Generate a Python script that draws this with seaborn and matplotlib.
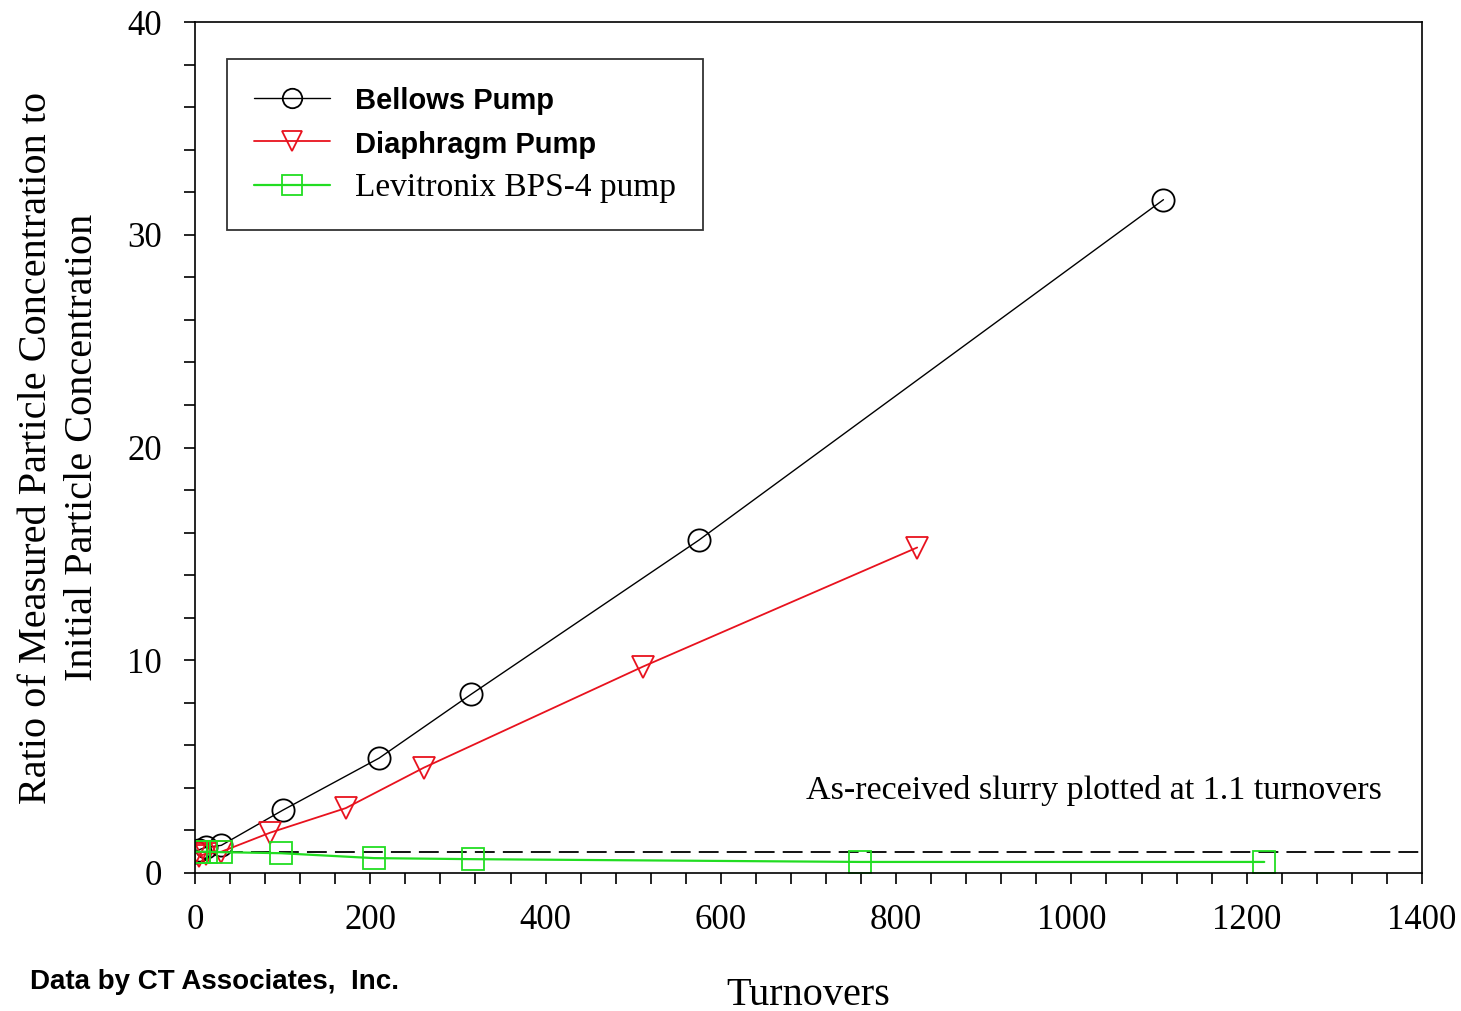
import matplotlib
matplotlib.use("Agg")
import matplotlib.pyplot as plt
import seaborn as sns
import pandas as pd
from matplotlib.ticker import MultipleLocator

# Data
bellows_x = [1.1, 5, 12, 30, 100, 210, 315, 575, 1105]
bellows_y = [1.0, 1.1, 1.2, 1.3, 2.95, 5.4, 8.4, 15.65, 31.65]

diaphragm_x = [1.1, 5, 12, 30, 86, 172, 261, 511, 824]
diaphragm_y = [1.0, 0.8, 0.9, 1.0, 1.9, 3.05, 4.95, 9.7, 15.3]

levitronix_x = [1.1, 5, 12, 30, 98, 204, 317, 759, 1220]
levitronix_y = [1.0, 1.0, 1.0, 0.98, 0.93, 0.7, 0.65, 0.52, 0.52]

series_names = ["Bellows Pump", "Diaphragm Pump", "Levitronix BPS-4 pump"]
reference_level = 1.0

sns.set_theme(style="white", rc={"text.color": "black", "axes.labelcolor": "black",
                                 "xtick.color": "black", "ytick.color": "black"})
plt.rcParams["font.family"] = ["Liberation Serif", "DejaVu Serif"]

fig = plt.figure(figsize=(14.61, 10.11), dpi=100)
ax = fig.add_axes([0.1335, 0.1365, 0.9733 - 0.1335, 0.9782 - 0.1365])

styles = [
    (bellows_x, bellows_y, "black", "o", 1.0),
    (diaphragm_x, diaphragm_y, "#e8121e", "v", 1.3),
    (levitronix_x, levitronix_y, "#22dd22", "s", 1.6),
]
for (xs, ys, col, mk, lw), name in zip(styles, series_names):
    df = pd.DataFrame({"x": xs, "y": ys})
    sns.lineplot(data=df, x="x", y="y", ax=ax, color=col, marker=mk,
                 markersize=16, markerfacecolor="none", markeredgecolor=col,
                 markeredgewidth=1.3, linewidth=lw, label=name, sort=False)

ax.axhline(reference_level, color="black", linestyle=(0, (11, 4.5)), linewidth=1.3, zorder=0)

ax.set_xlim(0, 1400)
ax.set_ylim(0, 40)
ax.xaxis.set_major_locator(MultipleLocator(200))
ax.xaxis.set_minor_locator(MultipleLocator(40))
ax.yaxis.set_major_locator(MultipleLocator(10))
ax.yaxis.set_minor_locator(MultipleLocator(2))
ax.tick_params(axis="both", which="major", direction="out", length=8, width=1.2,
               labelsize=25, colors="black", bottom=True, left=True, top=False, right=False)
ax.tick_params(axis="x", which="major", pad=14)
ax.tick_params(axis="y", which="major", pad=16)
ax.tick_params(axis="both", which="minor", direction="out", length=8, width=1.2,
               bottom=True, left=True, top=False, right=False)
for sp in ax.spines.values():
    sp.set_color("black")
    sp.set_linewidth(1.2)

ax.set_xlabel("Turnovers", fontsize=29, labelpad=29)
ax.set_ylabel("Ratio of Measured Particle Concentration to\nInitial Particle Concentration",
              fontsize=29, labelpad=19, linespacing=1.3)

ax.text(1026, 3.9, "As-received slurry plotted at 1.1 turnovers", fontsize=24.5,
        ha="center", va="center", color="black")

leg = ax.legend(loc="upper left", bbox_to_anchor=(0.026, 0.956), frameon=True, fancybox=False,
                edgecolor="black", prop={"family": ["Liberation Serif"], "size": 24},
                handlelength=2.3, handletextpad=0.75, borderpad=0.8, labelspacing=0.42,
                borderaxespad=0)
leg.get_frame().set_linewidth(1.3)
for h in leg.legend_handles:
    h.set_markersize(14)
for i, t in enumerate(leg.get_texts()):
    if i < 2:
        t.set_fontfamily(["Liberation Sans", "DejaVu Sans"])
        t.set_fontweight("bold")
        t.set_fontsize(21)
    else:
        t.set_fontsize(24)

fig.text(30 / 1461, 1 - 982 / 1011, "Data by CT Associates,  Inc.", fontsize=20,
         fontweight="bold", family=["Liberation Sans", "DejaVu Sans"], va="center", ha="left")

fig.savefig("out.png", dpi=100, facecolor="white")
